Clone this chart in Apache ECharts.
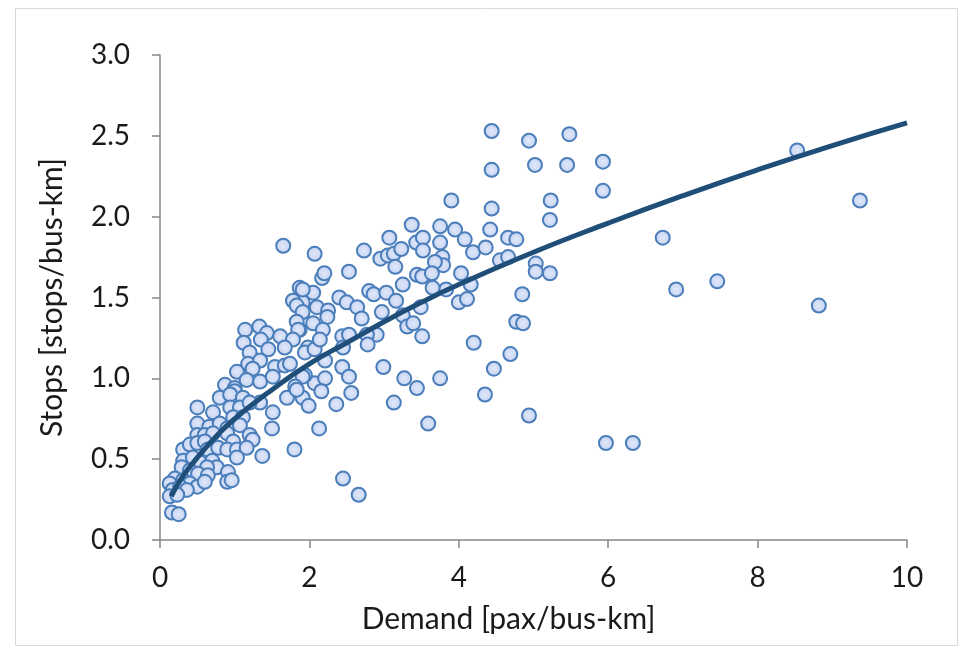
<!DOCTYPE html>
<html><head><meta charset="utf-8">
<script src="https://cdn.jsdelivr.net/npm/echarts@6/dist/echarts.min.js"></script>
<style>html,body{margin:0;padding:0;background:#fff}#c{width:971px;height:655px}</style>
</head><body><div id="c"></div>
<script>
const demand = [4.44,4.94,5.48,4.44,5.02,5.45,5.93,5.93,3.90,4.44,5.23,5.22,3.95,4.42,4.08,4.66,4.77,4.19,4.36,3.75,3.75,3.78,3.79,4.55,4.66,5.03,5.03,5.22,4.03,4.16,3.83,4.00,4.11,4.85,4.77,4.86,4.20,4.69,4.47,3.75,4.35,4.94,5.97,6.33,8.53,9.37,6.73,6.91,7.46,8.82,
3.07,2.73,2.07,2.95,3.05,3.13,3.23,3.43,3.52,3.52,3.68,3.37,3.15,2.53,2.17,2.20,3.44,3.51,3.64,3.65,3.25,1.87,2.05,1.91,2.10,2.25,2.24,2.05,2.18,1.87,2.40,2.50,2.64,2.70,2.80,2.86,3.03,3.16,2.97,3.25,3.31,3.39,3.49,3.51,2.90,2.77,2.78,2.44,2.53,2.45,1.98,1.94,2.07,2.14,2.21,2.99,2.44,2.53,3.27,3.44,2.07,2.21,1.94,
2.16,1.91,1.99,2.36,2.56,3.13,3.59,2.13,1.80,2.45,2.66,
1.65,1.91,1.78,1.83,1.91,1.83,1.85,1.14,1.33,1.43,1.12,1.35,1.45,1.61,1.78,1.67,1.20,1.18,1.34,1.24,1.54,1.67,1.74,1.03,1.16,1.34,1.51,1.91,0.87,1.00,1.81,
1.00,0.80,0.94,1.11,1.34,1.70,1.83,0.50,0.71,0.94,1.07,1.20,0.98,1.11,1.51,0.50,0.66,0.80,0.90,1.07,1.50,0.50,0.60,0.71,0.90,0.98,1.20,1.24,0.31,0.40,0.50,0.60,0.64,0.78,0.90,1.03,1.16,1.03,1.37,0.31,0.44,0.54,0.70,0.76,0.63,0.29,0.40,0.51,0.64,0.91,0.90,0.96,0.20,0.31,0.40,0.50,0.60,0.13,0.17,0.27,0.36,0.13,0.23,0.16,0.25];
const stops = [2.53,2.47,2.51,2.29,2.32,2.32,2.34,2.16,2.10,2.05,2.10,1.98,1.92,1.92,1.86,1.87,1.86,1.78,1.81,1.94,1.84,1.75,1.70,1.73,1.75,1.71,1.66,1.65,1.65,1.58,1.55,1.47,1.49,1.52,1.35,1.34,1.22,1.15,1.06,1.00,0.90,0.77,0.60,0.60,2.41,2.10,1.87,1.55,1.60,1.45,
1.87,1.79,1.77,1.74,1.76,1.77,1.80,1.84,1.87,1.79,1.72,1.95,1.69,1.66,1.62,1.65,1.64,1.63,1.65,1.56,1.58,1.56,1.53,1.47,1.44,1.42,1.38,1.34,1.30,1.30,1.50,1.47,1.44,1.37,1.54,1.52,1.53,1.48,1.41,1.39,1.32,1.34,1.44,1.26,1.27,1.27,1.21,1.26,1.27,1.19,1.19,1.16,1.18,1.24,1.11,1.07,1.07,1.01,1.00,0.94,0.97,1.00,1.02,
0.92,0.88,0.83,0.84,0.91,0.85,0.72,0.69,0.56,0.38,0.28,
1.82,1.55,1.48,1.45,1.41,1.35,1.30,1.30,1.32,1.28,1.22,1.24,1.18,1.26,1.24,1.19,1.16,1.09,1.11,1.06,1.07,1.08,1.09,1.04,0.99,0.98,1.01,1.01,0.96,0.94,0.95,
0.92,0.88,0.90,0.88,0.85,0.88,0.93,0.82,0.79,0.82,0.82,0.85,0.76,0.76,0.79,0.72,0.70,0.72,0.69,0.71,0.69,0.65,0.65,0.66,0.66,0.61,0.65,0.62,0.56,0.59,0.60,0.61,0.56,0.57,0.56,0.56,0.57,0.51,0.52,0.49,0.51,0.48,0.49,0.45,0.45,0.45,0.43,0.41,0.40,0.42,0.36,0.37,0.38,0.37,0.35,0.33,0.36,0.35,0.31,0.33,0.31,0.27,0.28,0.17,0.16];
const fitX = [0.15,0.3,0.5,0.75,1,1.5,2,2.5,3,3.5,4,5,6,7,8,9,10];
const fitY = [0.27,0.39,0.51,0.64,0.75,0.93,1.09,1.22,1.35,1.47,1.58,1.78,1.96,2.13,2.29,2.44,2.58];
const xTicks = [0,2,4,6,8,10];
const yTicks = [0,0.5,1,1.5,2,2.5,3];

const pts = demand.map((d,i)=>[d,stops[i]]);
const fit = fitX.map((d,i)=>[d,fitY[i]]);
const FONT = 'Lato';
const TXT = '#1a1a1a';
const chart = echarts.init(document.getElementById('c'));
chart.setOption({
  animation:false,
  backgroundColor:'#fff',
  graphic:[{type:'rect',shape:{x:15.5,y:8.5,width:942,height:637},style:{fill:'none',stroke:'#d9d9d9',lineWidth:1}}],
  grid:{left:160,right:64,top:55,bottom:115},
  xAxis:{type:'value',min:xTicks[0],max:xTicks[xTicks.length-1],interval:2,
    name:'Demand [pax/bus-km]',nameLocation:'middle',nameGap:64,
    nameTextStyle:{fontFamily:FONT,fontSize:30,color:TXT,padding:[0,50,0,0]},
    axisLine:{lineStyle:{color:'#868686',width:1.5}},
    axisTick:{show:true,inside:false,length:8,lineStyle:{color:'#868686',width:1.5}},
    axisLabel:{fontFamily:FONT,fontSize:28,color:TXT,margin:24},
    splitLine:{show:false}},
  yAxis:{type:'value',min:yTicks[0],max:yTicks[yTicks.length-1],interval:0.5,
    name:'Stops [stops/bus-km]',nameLocation:'middle',nameGap:93,
    nameTextStyle:{fontFamily:FONT,fontSize:30,color:TXT},
    axisLine:{show:true,lineStyle:{color:'#868686',width:1.5}},
    axisTick:{show:true,inside:false,length:8,lineStyle:{color:'#868686',width:1.5}},
    axisLabel:{fontFamily:FONT,fontSize:28,color:TXT,margin:30,formatter:v=>v.toFixed(1)},
    splitLine:{show:false}},
  series:[
    {type:'scatter',data:pts,symbol:'circle',symbolSize:14,z:2,
     itemStyle:{color:{type:'radial',x:0.5,y:0.5,r:0.6,colorStops:[{offset:0,color:'#e0e8fa'},{offset:1,color:'#bfcdef'}]},
       borderColor:'#4a7ebb',borderWidth:2,opacity:1}},
    {type:'line',data:fit,smooth:true,symbol:'none',z:5,
     lineStyle:{color:'#1f4e79',width:5}}
  ]
});
</script></body></html>
